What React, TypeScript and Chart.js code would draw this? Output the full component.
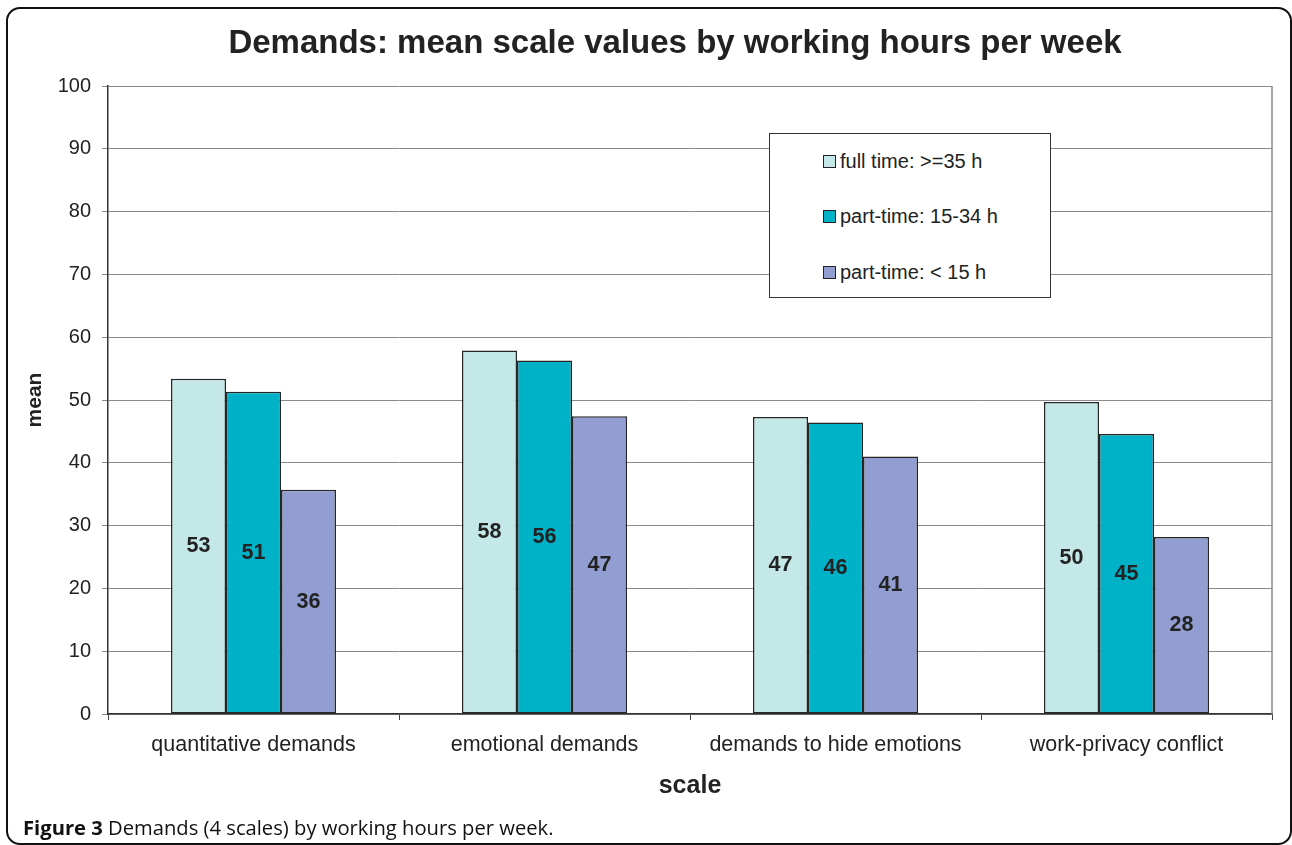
import React, { useEffect, useRef } from "react";
import { Chart, registerables } from "chart.js";

Chart.register(...registerables);

const categories = [
  "quantitative demands",
  "emotional demands",
  "demands to hide emotions",
  "work-privacy conflict",
];
const seriesLabels = ["full time: >=35 h", "part-time: 15-34 h", "part-time: < 15 h"];
const fullTime = [53.4, 57.9, 47.3, 49.7];
const partTimeMid = [51.3, 56.3, 46.4, 44.6];
const partTimeLow = [35.7, 47.4, 41.0, 28.2];
const seriesColors = ["#C4E8E8", "#00B2C8", "#929ED2"];
const yTicks = [0, 10, 20, 30, 40, 50, 60, 70, 80, 90, 100];

const FONT = "'Liberation Sans', Arial, Helvetica, sans-serif";
const TEXT = "#222222";

const barLabelPlugin = {
  id: "barLabels",
  afterDatasetsDraw(chart: any) {
    const ctx = chart.ctx;
    ctx.save();
    ctx.font = `bold 21.5px ${FONT}`;
    ctx.fillStyle = TEXT;
    ctx.textAlign = "center";
    ctx.textBaseline = "middle";
    chart.data.datasets.forEach((ds: any, i: number) => {
      const meta = chart.getDatasetMeta(i);
      meta.data.forEach((bar: any, j: number) => {
        const v = ds.data[j];
        const y = (bar.y + bar.base) / 2;
        ctx.fillText(String(Math.round(v)), bar.x, y);
      });
    });
    ctx.restore();
  },
};

const plotBorderPlugin = {
  id: "plotBorder",
  afterDraw(chart: any) {
    const { ctx, chartArea } = chart;
    ctx.save();
    ctx.strokeStyle = "#8a8a8a";
    ctx.lineWidth = 1.5;
    ctx.beginPath();
    ctx.moveTo(chartArea.right, chartArea.top);
    ctx.lineTo(chartArea.right, chartArea.bottom);
    ctx.stroke();
    ctx.restore();
  },
};

function ChartCanvas() {
  const ref = useRef<HTMLCanvasElement | null>(null);
  useEffect(() => {
    if (!ref.current) return;
    Chart.defaults.font.family = FONT;
    Chart.defaults.color = TEXT;
    const data = [fullTime, partTimeMid, partTimeLow];
    const chart = new Chart(ref.current, {
      type: "bar",
      data: {
        labels: categories,
        datasets: data.map((d, i) => ({
          label: seriesLabels[i],
          data: d,
          backgroundColor: seriesColors[i],
          borderColor: "#262626",
          borderWidth: 1.5,
          borderSkipped: false,
          categoryPercentage: 0.567,
          barPercentage: 1.0,
        })),
      },
      options: {
        responsive: false,
        animation: false,
        events: [],
        layout: { padding: { top: 86, left: 8, right: 20, bottom: 40 } },
        plugins: {
          legend: { display: false },
          tooltip: { enabled: false },
          title: { display: false },
        },
        scales: {
          x: {
            afterFit: (s: any) => {
              s.height = 91;
            },
            grid: {
              display: true,
              drawOnChartArea: false,
              drawTicks: true,
              tickLength: 6,
              color: "#444444",
              offset: true,
            },
            border: { display: true, color: "#333333", width: 1.5 },
            ticks: {
              font: { size: 21.5, family: FONT },
              color: TEXT,
              padding: 12,
              maxRotation: 0,
              autoSkip: false,
            },
            title: {
              display: true,
              text: "scale",
              font: { size: 25, weight: "bold", family: FONT },
              color: TEXT,
              padding: { top: 0, bottom: 4 },
            },
          },
          y: {
            min: 0,
            max: 100,
            afterFit: (s: any) => {
              s.width = 100;
            },
            afterBuildTicks: (s: any) => {
              s.ticks = yTicks.map((v) => ({ value: v }));
            },
            grid: {
              color: "#8a8a8a",
              lineWidth: 1,
              drawTicks: true,
              tickLength: 6,
            },
            border: { display: true, color: "#333333", width: 1.5 },
            ticks: {
              font: { size: 20, family: FONT },
              color: TEXT,
              padding: 11,
            },
            title: {
              display: true,
              text: "mean",
              font: { size: 21, weight: "bold", family: FONT },
              color: TEXT,
              padding: { top: 15, bottom: 0 },
            },
          },
        },
      },
      plugins: [barLabelPlugin, plotBorderPlugin],
    });
    return () => chart.destroy();
  }, []);
  return (
    <canvas
      ref={ref}
      width={1292}
      height={845}
      style={{ position: "absolute", left: 0, top: 0, width: 1292, height: 845 }}
    />
  );
}

export default function App() {
  return (
    <div
      style={{
        position: "absolute",
        left: 0,
        top: 0,
        width: 1292,
        height: 845,
        overflow: "hidden",
        background: "#ffffff",
        fontFamily: FONT,
      }}
    >
      <div
        style={{
          position: "absolute",
          left: 6,
          top: 7,
          width: 1286,
          height: 838,
          boxSizing: "border-box",
          border: "2px solid #111",
          borderRadius: 14,
        }}
      />
      <ChartCanvas />
      <div
        style={{
          position: "absolute",
          left: 0,
          width: 1350,
          top: 21.6,
          lineHeight: "40px",
          textAlign: "center",
          fontSize: 33,
          fontWeight: "bold",
          color: TEXT,
          fontFamily: FONT,
          whiteSpace: "nowrap",
        }}
      >
        Demands: mean scale values by working hours per week
      </div>
      <div
        style={{
          position: "absolute",
          left: 769,
          top: 133,
          width: 282,
          height: 165,
          boxSizing: "border-box",
          border: "1.5px solid #333",
          background: "#ffffff",
        }}
      >
        {seriesLabels.map((lab, i) => (
          <div
            key={lab}
            style={{
              position: "absolute",
              left: 53,
              top: 15 + i * 55.5,
              height: 24,
              display: "flex",
              alignItems: "center",
              fontSize: 20,
              color: TEXT,
              fontFamily: FONT,
              whiteSpace: "nowrap",
            }}
          >
            <span
              style={{
                display: "inline-block",
                width: 13,
                height: 13,
                boxSizing: "border-box",
                border: "1.5px solid #222",
                background: seriesColors[i],
                marginRight: 4,
              }}
            />
            {lab}
          </div>
        ))}
      </div>
      <div
        style={{
          position: "absolute",
          left: 23,
          top: 814,
          fontSize: 20.2,
          lineHeight: "27px",
          color: "#111",
          fontFamily: "'Open Sans', 'Noto Sans', sans-serif",
          whiteSpace: "nowrap",
        }}
      >
        <b>Figure 3</b> Demands (4 scales) by working hours per week.
      </div>
    </div>
  );
}
